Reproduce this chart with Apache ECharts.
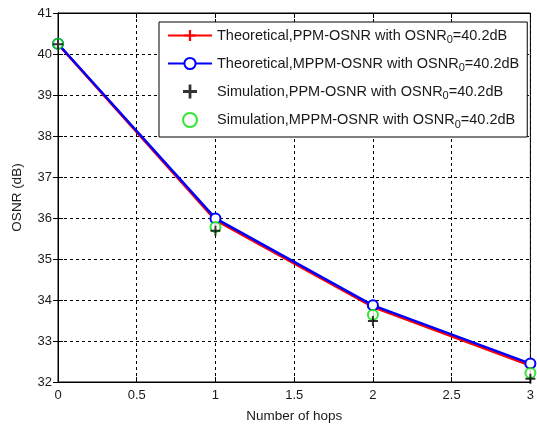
<!DOCTYPE html>
<html>
<head>
<meta charset="utf-8">
<script src="https://cdn.jsdelivr.net/npm/echarts@6/dist/echarts.min.js"></script>
<style>
  * { margin: 0; padding: 0; }
  body { background: #fff; }
  #main { width: 537px; height: 428px; }
</style>
</head>
<body>
<div id="main"></div>
<script>
  // hops on the x axis
  let hops = [0, 1, 2, 3]
  // OSNR values (dB)
  let theoPPM = [40.24, 35.95, 33.83, 32.40]
  let theoMPPM = [40.25, 35.99, 33.87, 32.45]
  let simPPM = [40.24, 35.69, 33.49, 32.08]
  let simMPPM = [40.25, 35.78, 33.64, 32.22]
  let legendNames = [
    'Theoretical,PPM-OSNR',
    'Theoretical,MPPM-OSNR',
    'Simulation,PPM-OSNR',
    'Simulation,MPPM-OSNR'
  ]

  let pair = (ys) => hops.map((x, i) => [x, ys[i]])
  let plus = 'path://M4,0H6V4H10V6H6V10H4V6H0V4H4Z'
  let font = 'Liberation Sans, Arial, sans-serif'

  let myChart = echarts.init(document.getElementById('main'))
  let option = {
    animation: false,
    backgroundColor: '#fff',
    grid: {
      left: 58, right: 6, top: 13, bottom: 42,
      show: true, borderColor: '#000', borderWidth: 1
    },
    legend: {
      orient: 'vertical',
      left: 159, top: 22,
      padding: [6, 8, 7, 8],
      itemGap: 10.5,
      itemWidth: 44,
      itemHeight: 14,
      backgroundColor: '#fff',
      borderColor: '#000',
      borderWidth: 1,
      data: legendNames,
      formatter: function (name) {
        return '{a|' + name + ' with OSNR}{s|0}{a|=40.2dB}'
      },
      textStyle: {
        color: '#1a1a1a',
        fontFamily: font,
        rich: {
          a: { fontSize: 14.5, fontFamily: font, color: '#1a1a1a' },
          s: { fontSize: 11, fontFamily: font, color: '#1a1a1a', padding: [9, 0, 0, 0] }
        }
      }
    },
    xAxis: [{
      type: 'value',
      min: 0, max: 3, interval: 0.5,
      name: 'Number of hops',
      nameLocation: 'middle',
      nameGap: 27,
      nameTextStyle: { fontSize: 13.5, fontFamily: font, color: '#1a1a1a' },
      axisLine: { lineStyle: { color: '#000' } },
      axisTick: { inside: true, length: 5, lineStyle: { color: '#000' } },
      axisLabel: { fontSize: 13, fontFamily: font, color: '#1a1a1a', margin: 7 },
      splitLine: { show: true, lineStyle: { color: '#000', type: [3, 3] } }
    }, {
      type: 'value', position: 'top',
      min: 0, max: 3, interval: 0.5,
      axisLine: { show: true, lineStyle: { color: '#000' } },
      axisTick: { inside: true, length: 5, lineStyle: { color: '#000' } },
      axisLabel: { show: false },
      splitLine: { show: false }
    }],
    yAxis: [{
      type: 'value',
      min: 32, max: 41, interval: 1,
      name: 'OSNR (dB)',
      nameLocation: 'middle',
      nameGap: 34,
      nameTextStyle: { fontSize: 13.5, fontFamily: font, color: '#1a1a1a' },
      axisLine: { show: true, lineStyle: { color: '#000' } },
      axisTick: { show: true, inside: true, length: 5, lineStyle: { color: '#000' } },
      axisLabel: { fontSize: 13, fontFamily: font, color: '#1a1a1a', margin: 6 },
      splitLine: { show: true, lineStyle: { color: '#000', type: [3, 3] } }
    }, {
      type: 'value', position: 'right',
      min: 32, max: 41, interval: 1,
      axisLine: { show: true, lineStyle: { color: '#000' } },
      axisTick: { show: true, inside: true, length: 5, lineStyle: { color: '#000' } },
      axisLabel: { show: false },
      splitLine: { show: false }
    }],
    series: [
      {
        name: legendNames[0], type: 'line',
        data: pair(theoPPM),
        symbol: plus, symbolSize: 11,
        lineStyle: { color: '#ff0000', width: 2.5 },
        itemStyle: { color: '#ff0000' }
      },
      {
        name: legendNames[1], type: 'line',
        data: pair(theoMPPM),
        symbol: 'emptyCircle', symbolSize: 10,
        lineStyle: { color: '#0000ff', width: 2.5 },
        itemStyle: { color: '#0000ff', borderColor: '#0000ff', borderWidth: 2 }
      },
      {
        name: legendNames[2], type: 'scatter', z: 4,
        data: pair(simPPM),
        symbol: plus, symbolSize: 10,
        itemStyle: { color: '#000' }
      },
      {
        name: legendNames[3], type: 'scatter', z: 3,
        data: pair(simMPPM),
        symbol: 'emptyCircle', symbolSize: 10,
        itemStyle: { color: '#00e000', borderColor: '#00e000', borderWidth: 2.5 }
      }
    ]
  }
  myChart.setOption(option)
</script>
</body>
</html>
